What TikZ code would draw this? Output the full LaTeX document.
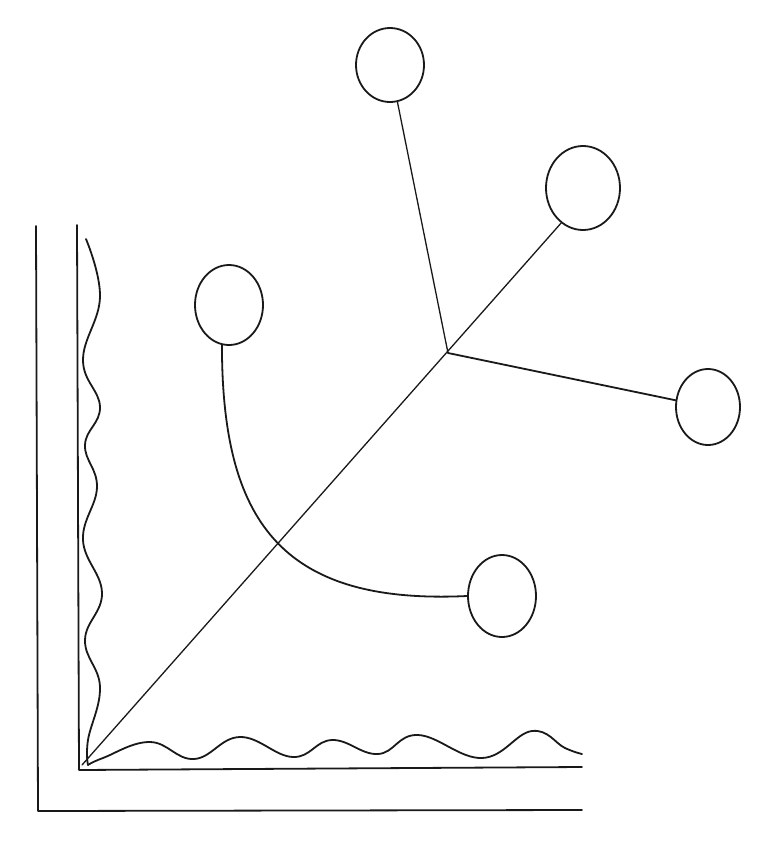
\documentclass[tikz,border=0pt]{standalone}
\usetikzlibrary{shapes.geometric}
\begin{document}
\begin{tikzpicture}[x=1pt,y=-1pt,
  ink/.style={line width=1.8pt,line cap=round,line join=round,black!90},
  thin ink/.style={line width=1.3pt,line cap=round,black!90},
  ball/.style={ellipse,draw,line width=1.8pt,black!90,inner sep=0pt,minimum width=#1},
  ball/.default=68pt]
\useasboundingbox[fill=white] (0,0) rectangle (779,863);
% walls
\draw[ink] (36,226) -- (38,811) -- (582,810);
\draw[ink] (77,225) -- (79,770) -- (582,767);
% wavy lines
\draw[ink] plot[smooth,tension=0.7] coordinates {(86,239) (100,297) (83,360) (100,407) (85,445) (97,487) (83,540) (102,593) (85,640) (100,687) (88,740) (88,765)};
\draw[ink] plot[smooth,tension=0.7] coordinates {(88,765) (103,758) (150,742) (194,759) (240,737) (293,757) (332,740) (378,754) (418,735) (482,758) (532,731) (565,748) (582,754)};
% balls
\node[ball=68pt,minimum height=74pt] (top) at (390,65) {};
\node[ball=74pt,minimum height=84pt] (ur) at (583,188) {};
\node[ball=64pt,minimum height=76pt] (rt) at (708,407) {};
\node[ball=68pt,minimum height=80pt] (lc) at (229,305) {};
\node[ball=68pt,minimum height=82pt] (bc) at (502,596) {};
% connectors
\coordinate (O) at (82,765);
\coordinate (J) at (448,353);
\draw[thin ink] (O) -- (ur.-122);
\draw[thin ink] (J) -- (top);
\draw[ink] (J) -- (rt);
\draw[ink] (lc.-100) .. controls (222,520) and (280,605) .. (bc.west);
\end{tikzpicture}
\end{document}
